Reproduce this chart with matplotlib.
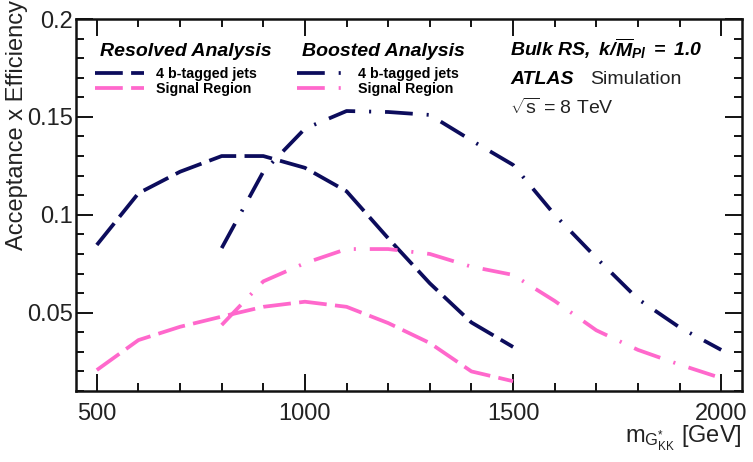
import matplotlib
matplotlib.use("Agg")
import matplotlib.pyplot as plt
from matplotlib.ticker import FixedLocator, MultipleLocator

# ---------------- data ----------------
mass_resolved = [500, 600, 700, 800, 900, 1000, 1100, 1200, 1300, 1400, 1500]
res_4b = [0.0846, 0.111, 0.122, 0.130, 0.130, 0.124, 0.112, 0.088, 0.065, 0.045, 0.0325]
res_sr = [0.0207, 0.036, 0.0428, 0.048, 0.053, 0.0556, 0.053, 0.0447, 0.0345, 0.020, 0.0150]

mass_boosted = [800, 900, 1000, 1100, 1200, 1300, 1400, 1500, 1600, 1700, 1800, 1900, 2000]
boo_4b = [0.083, 0.122, 0.144, 0.153, 0.1525, 0.151, 0.138, 0.1255, 0.100, 0.078, 0.057, 0.0425, 0.031]
boo_sr = [0.0437, 0.0660, 0.0753, 0.0825, 0.0825, 0.080, 0.0735, 0.0693, 0.0560, 0.041, 0.031, 0.0235, 0.0166]

yticks = [0.05, 0.1, 0.15, 0.2]
ytick_labels = ["0.05", "0.1", "0.15", "0.2"]
xticks = [500, 1000, 1500, 2000]
xtick_labels = ["500", "1000", "1500", "2000"]

NAVY = "#0c0c5c"
PINK = "#ff68cc"

plt.rcParams["font.family"] = ["Liberation Sans", "DejaVu Sans"]
plt.rcParams["mathtext.fontset"] = "custom"
plt.rcParams["mathtext.rm"] = "Liberation Sans"
plt.rcParams["mathtext.sf"] = "Liberation Sans"
plt.rcParams["mathtext.it"] = "Liberation Sans:italic"
plt.rcParams["mathtext.bf"] = "Liberation Sans:bold"
plt.rcParams["mathtext.bfit"] = "Liberation Sans:bold:italic"
plt.rcParams["lines.scale_dashes"] = False

W, H = 753, 462
fig = plt.figure(figsize=(W / 100, H / 100), dpi=100)
ax = fig.add_axes([76 / W, 1 - 391 / H, (742 - 76) / W, (391 - 19) / H])

lw = 2.7
dash_res = (0, (20, 6))
dash_boo = (0, (20, 10, 1.5, 10))

l1, = ax.plot(mass_resolved, res_4b, color=NAVY, lw=lw, linestyle=dash_res,
              dash_capstyle="butt", label="4 b-tagged jets")
l2, = ax.plot(mass_resolved, res_sr, color=PINK, lw=lw, linestyle=dash_res,
              dash_capstyle="butt", label="Signal Region")
l3, = ax.plot(mass_boosted, boo_4b, color=NAVY, lw=lw, linestyle=dash_boo,
              dash_capstyle="butt", label="4 b-tagged jets")
l4, = ax.plot(mass_boosted, boo_sr, color=PINK, lw=lw, linestyle=dash_boo,
              dash_capstyle="butt", label="Signal Region")

ax.set_xlim(450, 2050)
ax.set_ylim(0.01, 0.2)

ax.xaxis.set_major_locator(FixedLocator(xticks))
ax.set_xticklabels(xtick_labels)
ax.xaxis.set_minor_locator(MultipleLocator(100))
ax.yaxis.set_major_locator(FixedLocator(yticks))
ax.set_yticklabels(ytick_labels)
ax.yaxis.set_minor_locator(MultipleLocator(0.01))

ax.tick_params(which="both", direction="in", top=True, right=True, colors="black",
               labelsize=17, labelcolor="#222222")
ax.tick_params(which="major", length=12, width=1.3)
ax.tick_params(which="minor", length=6, width=1.3)
ax.tick_params(axis="x", which="major", pad=9)
ax.tick_params(axis="y", which="major", pad=2)
for sp in ax.spines.values():
    sp.set_linewidth(1.8)
    sp.set_color("#111111")

# axis titles
fig.text(17 / W, 1.0, "Acceptance x Efficiency", rotation=90, ha="center", va="top",
         fontsize=17, color="#222222")
fig.text(742 / W, 1 - 443 / H, r"m$_{\mathsf{G^{*}_{KK}}}$ [GeV]", ha="right", va="baseline",
         fontsize=17, color="#222222")

# legends
fig.text(100 / W, 1 - 56 / H, "Resolved Analysis", fontsize=14, fontweight="bold",
         fontstyle="italic", ha="left", va="baseline")
fig.text(302 / W, 1 - 56 / H, "Boosted Analysis", fontsize=14, fontweight="bold",
         fontstyle="italic", ha="left", va="baseline")

leg_kw = dict(loc="center left", frameon=False, borderpad=0, borderaxespad=0,
              handlelength=3.4, handletextpad=0.85, labelspacing=0.12,
              prop=dict(size=10.3, weight="bold"))
leg1 = fig.legend(handles=[l1, l2], bbox_to_anchor=(95 / W, 1 - 81.5 / H), **leg_kw)
leg2 = fig.legend(handles=[l3, l4], bbox_to_anchor=(297 / W, 1 - 81.5 / H), **leg_kw)

# right block
fig.text(510 / W, 1 - 56 / H, r"$\mathbfit{Bulk\ RS,\ k/\overline{M}_{Pl}\ =\ 1.0}$",
         fontsize=14, ha="left", va="baseline")
fig.text(510 / W, 1 - 84 / H, "ATLAS", fontsize=14, fontweight="bold",
         fontstyle="italic", ha="left", va="baseline")
fig.text(590 / W, 1 - 84 / H, "Simulation", fontsize=14, ha="left", va="baseline",
         color="#222222")
fig.text(510 / W, 1 - 114 / H, r"$\mathsf{\sqrt{s}}$ = 8 TeV", fontsize=14, ha="left",
         va="baseline", color="#222222")

fig.savefig("out.png", dpi=100)
